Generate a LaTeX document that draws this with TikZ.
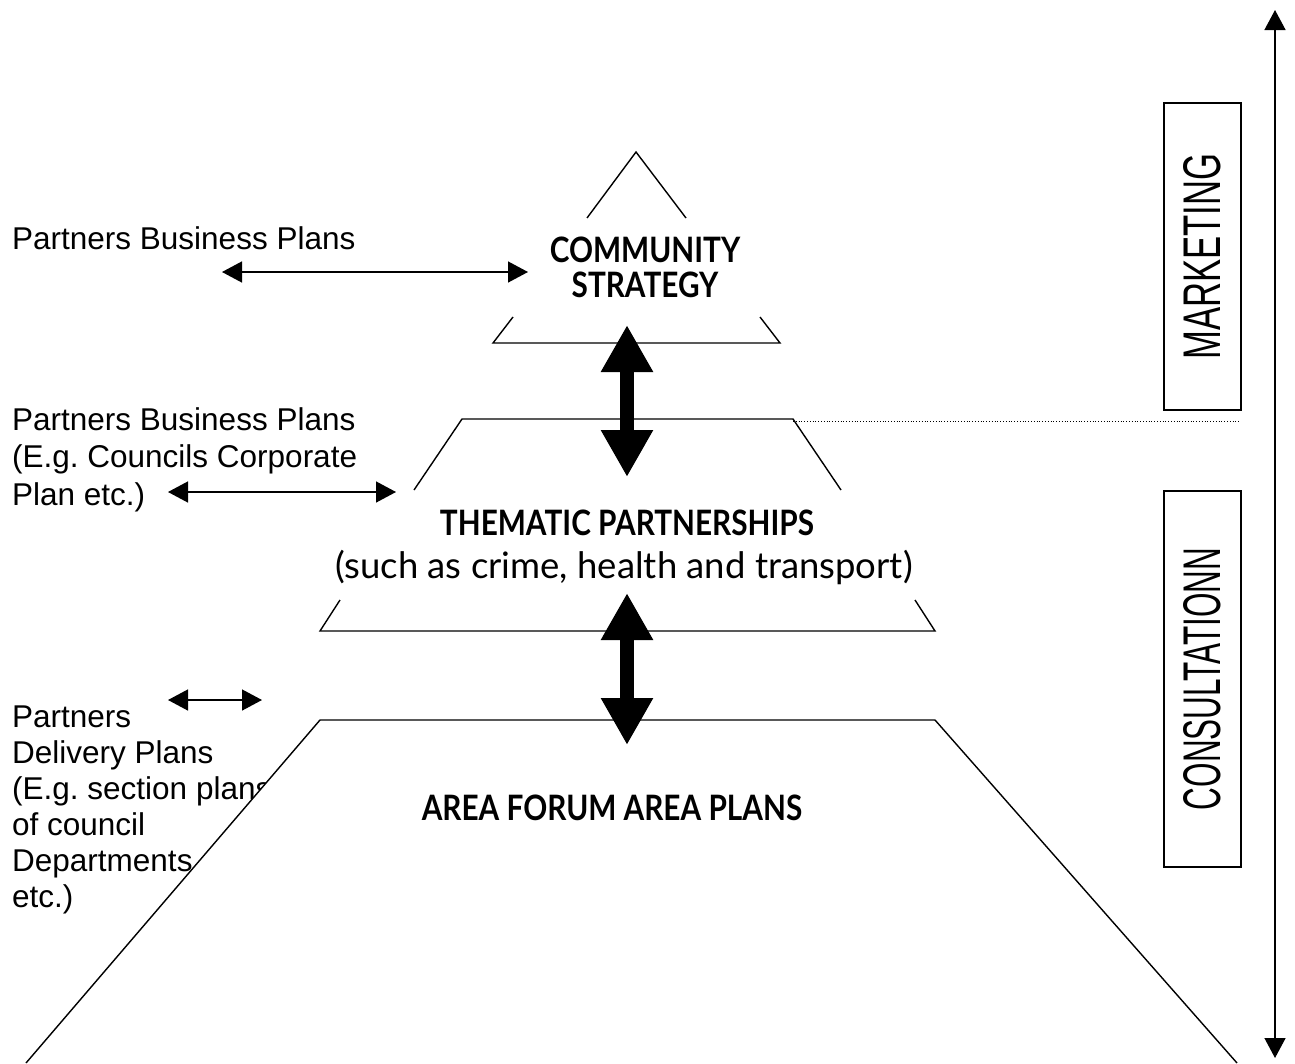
\documentclass[tikz,border=0pt]{standalone}
\usepackage{fontspec}
\usepackage{graphicx}
\setmainfont{Liberation Sans}
\newfontfamily\headfont[FakeStretch=0.85]{Lato}
\newfontfamily\notefont{Lato}
\usetikzlibrary{arrows.meta}

\tikzset{
  edge line/.style={line width=1.4pt},
  thin arrow/.style={line width=1.4pt,{Triangle[length=20pt,width=21pt]}-{Triangle[length=20pt,width=21pt]}},
  fat arrow/.style={line width=14pt,{Triangle[length=47pt,width=49pt]}-{Triangle[length=47pt,width=49pt]}},
  side text/.style={anchor=base west,align=left,inner sep=0pt,font=\fontsize{31.5}{37}\selectfont},
  head text/.style={align=center,inner sep=0pt,font=\headfont\bfseries\fontsize{35}{35}\selectfont},
  band box/.style={draw,line width=1.4pt,rotate=90,minimum height=77pt,inner sep=0pt}
}

\begin{document}
\begin{tikzpicture}[x=1pt,y=-1pt]
  \useasboundingbox (0,0) rectangle (1295,1063);

  % left hand texts (base = last line)
  \node[side text] (pbp) at (12,249) {Partners Business Plans};
  \node[side text,font=\fontsize{31.5}{37.5}\selectfont] (pcp) at (12,505)
    {Partners Business Plans\\(E.g.\ Councils Corporate\\Plan etc.)};
  \node[side text,font=\fontsize{31.5}{36}\selectfont] (pdp) at (12,907)
    {Partners\\Delivery Plans\\(E.g.\ section plans\\of council\\Departments\\etc.)};

  % community strategy triangle
  \draw[edge line] (587,218) -- (636,152) -- (686,218);
  \draw[edge line] (513,317) -- (493,343) -- (780,343) -- (760,317);
  \node[head text] (comm) at (645,267) {COMMUNITY\\STRATEGY};

  % thematic partnerships
  \draw[edge line] (414,490) -- (462,419) -- (793,419) -- (841,490);
  \draw[edge line] (340,600) -- (320,631) -- (935,631) -- (915,600);
  \draw[dotted,line width=0.8pt] (793,421) -- (1240,421);
  \node[head text] (theme) at (627,523) {THEMATIC PARTNERSHIPS};
  \node[head text,font=\notefont\fontsize{36.5}{36}\selectfont] (such) at (624,567)
    {(such as crime, health and transport)};

  % area forum, covers the text on the left
  \fill[white] (26,1063) -- (320,720) -- (935,720) -- (1237,1063) -- cycle;
  \draw[edge line] (26,1063) -- (320,720) -- (935,720) -- (1237,1063);
  \node[head text] (area) at (612,808) {AREA FORUM AREA PLANS};

  % arrow ends
  \coordinate (pbpL) at (222,272);
  \coordinate (pbpR) at (528,272);
  \coordinate (pcpL) at (168,492);
  \coordinate (pcpR) at (396,492);
  \coordinate (pdpL) at (168,700);
  \coordinate (pdpR) at (262,700);
  \coordinate (up1) at (627,325);
  \coordinate (dn1) at (627,477);
  \coordinate (up2) at (627,593);
  \coordinate (dn2) at (627,745);
  \coordinate (top) at (1275,10);
  \coordinate (bot) at (1275,1058);

  \draw[thin arrow] (pbpL) -- (pbpR);
  \draw[thin arrow] (pcpL) -- (pcpR);
  \draw[thin arrow] (pdpL) -- (pdpR);
  \draw[fat arrow] (up1) -- (dn1);
  \draw[fat arrow] (up2) -- (dn2);
  \draw[thin arrow] (top) -- (bot);

  % boxes on the right
  \node[band box,minimum width=307pt] (mkt) at (1202.5,256.5)
    {\resizebox{206pt}{37pt}{MARKETING}};
  \node[band box,minimum width=376pt] (cons) at (1202.5,679)
    {\resizebox{262pt}{37pt}{CONSULTATIONN}};
\end{tikzpicture}
\end{document}
